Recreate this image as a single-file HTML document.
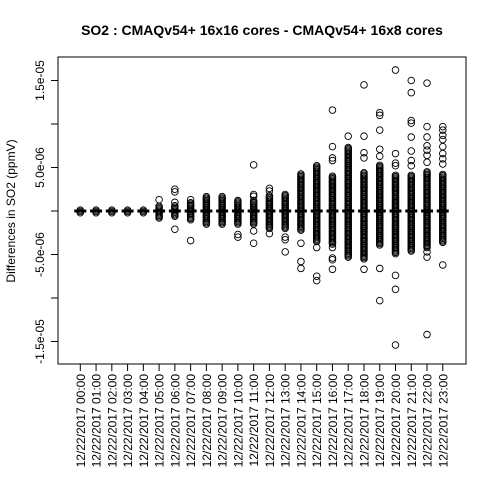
<!DOCTYPE html>
<html><head><meta charset="utf-8"><style>
html,body{margin:0;padding:0;background:#fff}
svg{display:block;font-family:"Liberation Sans",sans-serif}
</style></head><body>
<svg id="chart" width="480" height="480" viewBox="0 0 480 480">
<text x="262" y="35" text-anchor="middle" font-size="14" font-weight="bold">SO2 : CMAQv54+ 16x16 cores - CMAQv54+ 16x8 cores</text>
<text transform="translate(15,211) rotate(-90)" text-anchor="middle" font-size="12">Differences in SO2 (ppmV)</text>
<rect x="58" y="57" width="408" height="307" fill="none" stroke="#000"/>
<g id="axes"></g>
<g id="marks"></g>
</svg>
<script>
const categories=["00:00","01:00","02:00","03:00","04:00","05:00","06:00","07:00","08:00","09:00","10:00","11:00","12:00","13:00","14:00","15:00","16:00","17:00","18:00","19:00","20:00","21:00","22:00","23:00"];
const yTicks=[15,10,5,0,-5,-10,-15];
const yTickLabels=["1.5e-05","","5.0e-06","","-5.0e-06","","-1.5e-05"];
const denseHi=[0.2,0.2,0.2,0.2,0.2,0.6,0.6,1.0,1.7,1.7,1.3,1.2,1.8,2.0,4.3,5.3,4.0,7.3,4.5,5.3,4.1,4.1,4.5,4.3];
const denseLo=[-0.2,-0.2,-0.2,-0.2,-0.2,-0.8,-0.6,-1.0,-1.5,-1.5,-1.5,-1.5,-2.0,-2.0,-2.2,-3.5,-3.8,-5.3,-5.5,-3.9,-4.9,-4.6,-4.2,-3.6];
const outliers=[[],[],[],[],[],[1.3],[2.5,2.2,1.0,-2.1],[1.3,-3.4],[],[],[-2.7,-3.0],[5.3,1.9,1.7,-2.3,-3.7],[2.6,2.3,-2.6],[-3.0,-3.3,-4.7],[-3.7,-5.8,-6.6],[-4.2,-7.5,-8.0],[11.6,7.4,6.1,5.8,-4.2,-5.4,-5.6,-6.7],[8.6],[14.5,8.6,6.7,6.1,-6.7],[11.3,11.0,9.3,7.1,6.3,-6.6,-10.3],[16.2,6.6,5.5,5.2,-7.4,-9.0,-15.4],[15.0,13.6,10.4,10.1,8.5,6.9,5.8,5.2],[14.7,9.7,8.5,7.5,7.0,6.4,5.6,-4.7,-5.3,-14.2],[9.7,9.3,8.7,8.2,7.4,6.6,6.0,5.4,-6.2]];
const medians=[0,0,0,0,0,0,0,0,0,0,0,0,0,0,0,0,0,0,0,0,0,0,0,0];
const NS="http://www.w3.org/2000/svg";
const xOf=i=>80.3+i*15.76;
const yOf=v=>211-v*8.7;
const axes=document.getElementById('axes'),marks=document.getElementById('marks');
function mk(tag,attrs,parent){const e=document.createElementNS(NS,tag);for(const k in attrs)e.setAttribute(k,attrs[k]);parent.appendChild(e);return e;}
let l=mk('line',{x1:58,x2:58,y1:yOf(15),y2:yOf(-15),stroke:'#000'},axes);


yTicks.forEach((t,i)=>{
 const y=yOf(t);
 const tk=mk('line',{x1:51,x2:58,y1:y,y2:y,stroke:'#000'},axes);
 
 
 if(yTickLabels[i]){
  const tx=mk('text',{transform:`translate(44,${y}) rotate(-90)`,'text-anchor':'middle','font-size':12},axes);
  tx.textContent=yTickLabels[i];
  
  
 }
});
l=mk('line',{x1:xOf(0),x2:xOf(categories.length-1),y1:364,y2:364,stroke:'#000'},axes);


categories.forEach((c,i)=>{
 const x=xOf(i);
 const tk=mk('line',{x1:x,x2:x,y1:364,y2:371,stroke:'#000'},axes);
 
 
 const tx=mk('text',{transform:`translate(${x+4.5},374) rotate(-90)`,'text-anchor':'end','font-size':12},axes);
 tx.textContent='12/22/2017 '+c;
 
 
});
function pt(x,v){
 const c=mk('circle',{cx:x,cy:yOf(v),r:3.3,fill:'none',stroke:'#000','stroke-width':0.9},marks);
 
 
}
categories.forEach((c,i)=>{
 const x=xOf(i);
 for(let v=denseLo[i];v<=denseHi[i]+1e-9;v+=0.15)pt(x,v);
 outliers[i].forEach(v=>pt(x,v));
 const m=mk('line',{x1:x-6,x2:x+6,y1:yOf(medians[i]),y2:yOf(medians[i]),stroke:'#000','stroke-width':3},marks);
 
 
});
</script>
</body></html>
